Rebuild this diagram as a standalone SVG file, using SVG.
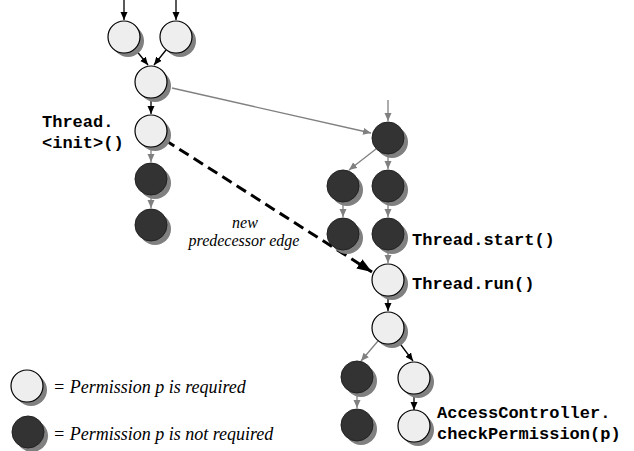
<svg xmlns="http://www.w3.org/2000/svg" width="634" height="451" viewBox="0 0 634 451">
  <style>
    .shadow { fill: #808080; }
    .light { fill: #eeeeee; stroke: #000000; stroke-width: 1.2; }
    .dark { fill: #333333; stroke: #222222; stroke-width: 1; }
    .edge-b { stroke: #000000; stroke-width: 1.3; fill: none; marker-end: url(#ah-b); }
    .edge-g { stroke: #808080; stroke-width: 1.3; fill: none; marker-end: url(#ah-g); }
    .edge-new { stroke: #000000; stroke-width: 3; stroke-dasharray: 11 6; fill: none; marker-end: url(#ah-big); }
    .code { font-family: "Liberation Mono", "Courier New", monospace; font-weight: bold; font-size: 17px; fill: #000; }
    .note { font-family: "Liberation Serif", "Times New Roman", serif; font-style: italic; fill: #000; }
  </style>
  <defs>
    <marker id="ah-b" markerUnits="userSpaceOnUse" markerWidth="9" markerHeight="8" refX="8" refY="3.5" orient="auto">
      <path d="M0,0 L8,3.5 L0,7 z" fill="#000000"/>
    </marker>
    <marker id="ah-g" markerUnits="userSpaceOnUse" markerWidth="9" markerHeight="8" refX="8" refY="3.5" orient="auto">
      <path d="M0,0 L8,3.5 L0,7 z" fill="#808080"/>
    </marker>
    <marker id="ah-big" markerUnits="userSpaceOnUse" markerWidth="16" markerHeight="12" refX="15" refY="5.5" orient="auto">
      <path d="M0,0 L15,5.5 L0,11 z" fill="#000000"/>
    </marker>
    <g id="lightNode">
      <circle class="shadow" cx="4" cy="4" r="16"/>
      <circle class="light" cx="0" cy="0" r="16"/>
    </g>
    <g id="darkNode">
      <circle class="shadow" cx="4" cy="4" r="16"/>
      <circle class="dark" cx="0" cy="0" r="16"/>
    </g>
  </defs>

  <!-- connectors -->
  <g id="connectors">
    <line class="edge-b" x1="124" y1="0" x2="124" y2="20"/>
    <line class="edge-b" x1="176" y1="0" x2="176" y2="20"/>
    <line class="edge-b" x1="135" y1="49" x2="148" y2="65"/>
    <line class="edge-b" x1="166" y1="50" x2="154" y2="65"/>
    <line class="edge-b" x1="151" y1="98" x2="151" y2="114"/>
    <line class="edge-g" x1="172" y1="88" x2="371" y2="133"/>
    <line class="edge-g" x1="388" y1="100" x2="388" y2="121"/>
    <line class="edge-g" x1="151" y1="147" x2="151" y2="162"/>
    <line class="edge-g" x1="151" y1="195" x2="151" y2="208"/>
    <line class="edge-g" x1="376" y1="149" x2="349" y2="170"/>
    <line class="edge-g" x1="388" y1="154" x2="388" y2="169"/>
    <line class="edge-g" x1="343" y1="202" x2="343" y2="217"/>
    <line class="edge-g" x1="388" y1="202" x2="388" y2="217"/>
    <line class="edge-g" x1="388" y1="250" x2="388" y2="263"/>
    <line class="edge-b" x1="388" y1="296" x2="388" y2="311"/>
    <line class="edge-g" x1="378" y1="341" x2="361" y2="361"/>
    <line class="edge-b" x1="398" y1="341" x2="413" y2="361"/>
    <line class="edge-g" x1="357" y1="393" x2="357" y2="408"/>
    <line class="edge-b" x1="414" y1="394" x2="414" y2="410"/>
    <line class="edge-new" x1="165" y1="140" x2="372" y2="272"/>
  </g>

  <!-- nodes -->
  <g id="n-a"><use href="#lightNode" x="124" y="37"/></g>
  <g id="n-b"><use href="#lightNode" x="176" y="37"/></g>
  <g id="n-c"><use href="#lightNode" x="151" y="82"/></g>
  <g id="n-thread-init">
    <use href="#lightNode" x="151" y="131"/>
    <text class="code" x="42" y="127">Thread.</text>
    <text class="code" x="42" y="148">&lt;init&gt;()</text>
  </g>
  <g id="n-e"><use href="#darkNode" x="151" y="179"/></g>
  <g id="n-f"><use href="#darkNode" x="151" y="225"/></g>
  <g id="n-g"><use href="#darkNode" x="388" y="138"/></g>
  <g id="n-h"><use href="#darkNode" x="343" y="186"/></g>
  <g id="n-i"><use href="#darkNode" x="388" y="186"/></g>
  <g id="n-j"><use href="#darkNode" x="343" y="234"/></g>
  <g id="n-thread-start">
    <use href="#darkNode" x="388" y="234"/>
    <text class="code" x="412" y="245">Thread.start()</text>
  </g>
  <g id="n-thread-run">
    <use href="#lightNode" x="388" y="280"/>
    <text class="code" x="412" y="289">Thread.run()</text>
  </g>
  <g id="n-m"><use href="#lightNode" x="388" y="328"/></g>
  <g id="n-n"><use href="#darkNode" x="357" y="377"/></g>
  <g id="n-o"><use href="#lightNode" x="414" y="378"/></g>
  <g id="n-p"><use href="#darkNode" x="357" y="425"/></g>
  <g id="n-check">
    <use href="#lightNode" x="414" y="426"/>
    <text class="code" x="437" y="418">AccessController.</text>
    <text class="code" x="437" y="439">checkPermission(p)</text>
  </g>

  <!-- label on the dashed edge -->
  <g id="edge-label">
    <text class="note" font-size="16" x="245" y="228" text-anchor="middle">new</text>
    <text class="note" font-size="16" x="244" y="246" text-anchor="middle">predecessor edge</text>
  </g>

  <!-- legend -->
  <g id="legend">
    <use href="#lightNode" x="27" y="386"/>
    <text class="note" font-size="18" x="53" y="393">= Permission p is required</text>
    <use href="#darkNode" x="28" y="432"/>
    <text class="note" font-size="18" x="53" y="440">= Permission p is not required</text>
  </g>
</svg>
